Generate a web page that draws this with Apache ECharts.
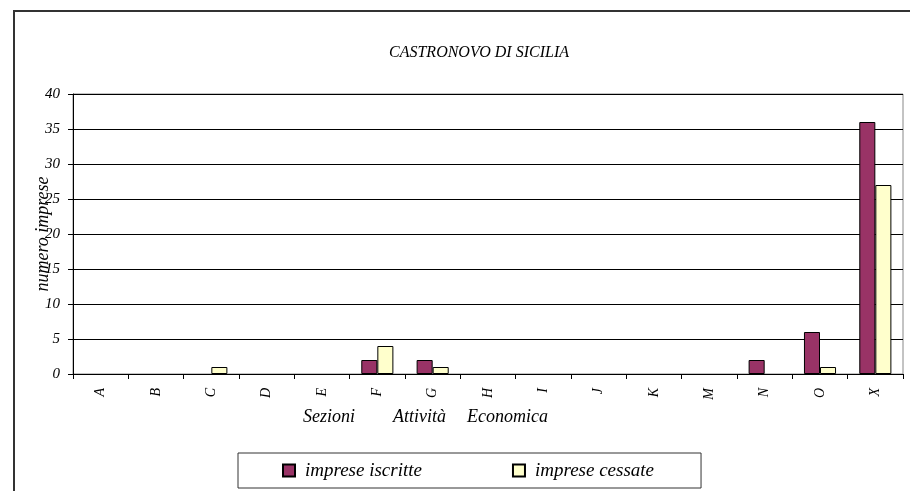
<!DOCTYPE html>
<html>
<head>
<meta charset="utf-8">
<script src="https://cdn.jsdelivr.net/npm/echarts@6/dist/echarts.min.js"></script>
<style>
  html, body { margin: 0; padding: 0; background: #fff; }
  #chart { width: 910px; height: 491px; }
</style>
</head>
<body>
<div id="chart"></div>
<script>
const sezioni = ["A", "B", "C", "D", "E", "F", "G", "H", "I", "J", "K", "M", "N", "O", "X"];
const iscritte = [0, 0, 0, 0, 0, 2, 2, 0, 0, 0, 0, 0, 2, 6, 36];
const cessate = [0, 0, 1, 0, 0, 4, 1, 0, 0, 0, 0, 0, 0, 1, 27];

const font = "Liberation Serif";
// zero values are not drawn (as in the original spreadsheet chart)
const hideZero = (arr) => arr.map((v) => (v === 0 ? null : v));

const chart = echarts.init(document.getElementById("chart"));

chart.setOption({
  animation: false,
  title: {
    text: "CASTRONOVO DI SICILIA",
    left: 474,
    top: 40,
    textAlign: "center",
    textStyle: { fontFamily: font, fontStyle: "italic", fontWeight: "normal", fontSize: 16, color: "#000" },
  },
  graphic: [
    {
      type: "rect",
      shape: { x: 14, y: 11, width: 920, height: 500 },
      style: { fill: "none", stroke: "#333", lineWidth: 2 },
      silent: true,
    },
    {
      type: "text",
      left: 303,
      top: 408,
      style: { text: "Sezioni", font: "italic 18px 'Liberation Serif'", fill: "#000" },
    },
    {
      type: "text",
      left: 393,
      top: 408,
      style: { text: "Attività", font: "italic 18px 'Liberation Serif'", fill: "#000" },
    },
    {
      type: "text",
      left: 467,
      top: 408,
      style: { text: "Economica", font: "italic 18px 'Liberation Serif'", fill: "#000" },
    },
  ],
  legend: {
    left: 238,
    top: 453,
    padding: [8, 47, 8, 44],
    itemGap: 90,
    itemWidth: 12,
    itemHeight: 12,
    borderColor: "#333",
    borderWidth: 1,
    icon: "rect",
    textStyle: { fontFamily: font, fontStyle: "italic", fontSize: 19, color: "#000", padding: [0, 0, 0, 5] },
    data: ["imprese iscritte", "imprese cessate"],
  },
  grid: {
    left: 73,
    right: 7,
    top: 94,
    bottom: 117,
    show: true,
    borderColor: "#888",
    borderWidth: 1,
  },
  xAxis: {
    type: "category",
    data: sezioni,
    axisLine: { lineStyle: { color: "#000", width: 1 } },
    axisTick: { show: true, length: 5, lineStyle: { color: "#000" } },
    axisLabel: {
      rotate: 90,
      margin: 14,
      fontFamily: font,
      fontStyle: "italic",
      fontSize: 14,
      color: "#000",
    },
  },
  yAxis: {
    type: "value",
    min: 0,
    max: 40,
    interval: 5,
    name: "numero imprese",
    nameLocation: "middle",
    nameGap: 21,
    nameMoveOverlap: false,
    nameTextStyle: { fontFamily: font, fontStyle: "italic", fontSize: 18, color: "#000" },
    axisLine: { show: true, lineStyle: { color: "#000" } },
    axisTick: { show: true, length: 5, lineStyle: { color: "#000" } },
    axisLabel: { margin: 13, fontFamily: font, fontStyle: "italic", fontSize: 15, color: "#000" },
    splitLine: { lineStyle: { color: "#000", width: 1 } },
  },
  series: [
    {
      name: "imprese iscritte",
      type: "bar",
      data: hideZero(iscritte),
      barGap: "0%",
      barCategoryGap: "42%",
      itemStyle: { color: "#993366", borderColor: "#000", borderWidth: 1 },
    },
    {
      name: "imprese cessate",
      type: "bar",
      data: hideZero(cessate),
      itemStyle: { color: "#FFFFCC", borderColor: "#000", borderWidth: 1 },
    },
  ],
});
</script>
</body>
</html>
